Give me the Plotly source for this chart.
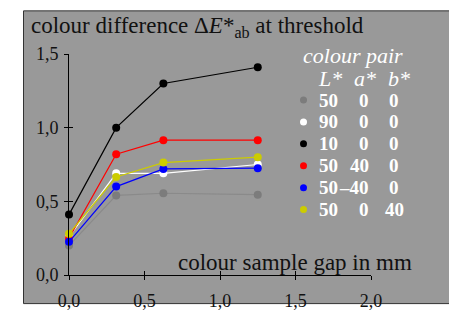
import plotly.graph_objects as go

# ---------------- data ----------------
gap_mm = [0.0, 0.3125, 0.625, 1.25]
series_names = ["50 0 0", "90 0 0", "10 0 0", "50 40 0", "50 -40 0", "50 0 40"]
dE_gray = [0.20, 0.54, 0.555, 0.545]
dE_white = [0.26, 0.69, 0.69, 0.75]
dE_black = [0.41, 1.00, 1.30, 1.41]
dE_red = [0.25, 0.82, 0.915, 0.915]
dE_blue = [0.225, 0.60, 0.72, 0.725]
dE_yellow = [0.28, 0.665, 0.763, 0.80]
L_vals = ["50", "90", "10", "50", "50", "50"]
a_vals = ["0", "0", "0", "40", "\u201340", "0"]
b_vals = ["0", "0", "0", "0", "0", "40"]
x_ticks = [0.0, 0.5, 1.0, 1.5, 2.0]
y_ticks = [0.0, 0.5, 1.0, 1.5]

marker_colors = ["#7c7c7c", "#ffffff", "#000000", "#ff0000", "#0000ff", "#cccc00"]
line_colors = ["#8a8a8a", "#ffffff", "#000000", "#ff0000", "#0000ff", "#cccc00"]
all_series = [dE_gray, dE_white, dE_black, dE_red, dE_blue, dE_yellow]

W, H = 457, 315
OFF = 8  # default page body margin
ML, MT = 69 - OFF, 54 - OFF
PW, PH = 302, 228
MR, MB = W - ML - PW, H - MT - PH


def px(x):
    return (x - OFF - ML) / PW


def py(y):
    return (MT + PH - (y - OFF)) / PH


FONT = "Liberation Serif"

fig = go.Figure()
for vals, mc, lc, nm in zip(all_series, marker_colors, line_colors, series_names):
    fig.add_trace(go.Scatter(
        x=gap_mm, y=vals, mode="lines+markers", name=nm,
        line=dict(color=lc, width=1.2),
        marker=dict(color=mc, size=8),
        cliponaxis=False, showlegend=False,
    ))

# invisible trace on overlay axes (for crossing ticks)
fig.add_trace(go.Scatter(x=[None], y=[None], xaxis="x2", yaxis="y2",
                         showlegend=False, hoverinfo="skip"))

axis_common = dict(
    showgrid=False, zeroline=False,
    tickfont=dict(family=FONT, size=18, color="#111111"),
    tickcolor="#000000", ticklen=4, tickwidth=1,
)
fig.update_layout(
    width=W, height=H,
    margin=dict(l=ML, r=MR, t=MT, b=MB, pad=0),
    paper_bgcolor="#ffffff", plot_bgcolor="rgba(0,0,0,0)",
    separators=",.",
    xaxis=dict(range=[0, 2], tickvals=x_ticks, tickformat=".1f", ticks="outside",
               showline=True, linecolor="#000000", linewidth=1,
               ticklabelstandoff=5, **axis_common),
    yaxis=dict(range=[0, 1.5], tickvals=y_ticks, tickformat=".1f", ticks="outside",
               showline=True, linecolor="#000000", linewidth=1,
               ticklabelstandoff=2, **axis_common),
    xaxis2=dict(range=[0, 2], overlaying="x", anchor="y2", tickvals=x_ticks, ticks="inside",
                showticklabels=False, showline=False, **axis_common),
    yaxis2=dict(range=[0, 1.5], overlaying="y", anchor="x2", tickvals=y_ticks, ticks="inside",
                showticklabels=False, showline=False, **axis_common),
    showlegend=False,
)

shapes = [dict(type="rect", xref="paper", yref="paper", layer="below",
               x0=px(23.5), x1=px(455), y0=py(311.5), y1=py(9.5),
               fillcolor="#999999", line=dict(color="#333333", width=1))]

annotations = [
    dict(text="colour difference \u0394<i>E</i>*<sub>ab</sub> at threshold",
         x=px(29), y=py(26), xanchor="left", yanchor="middle",
         font=dict(family=FONT, size=23, color="#111111")),
    dict(text="colour sample gap in mm", x=px(414), y=py(269), xanchor="right", yanchor="middle",
         font=dict(family=FONT, size=23, color="#111111")),
    dict(text="<i>colour pair</i>", x=px(301), y=py(56), xanchor="left", yanchor="middle",
         font=dict(family=FONT, size=22, color="#ffffff")),
    dict(text="<i>L*</i>", x=px(330), y=py(79), xanchor="center", yanchor="middle",
         font=dict(family=FONT, size=22, color="#ffffff")),
    dict(text="<i>a*</i>", x=px(365), y=py(79), xanchor="center", yanchor="middle",
         font=dict(family=FONT, size=22, color="#ffffff")),
    dict(text="<i>b*</i>", x=px(399), y=py(79), xanchor="center", yanchor="middle",
         font=dict(family=FONT, size=22, color="#ffffff")),
]

row_y0, row_dy = 101.5, 22.6
for i, (mc, Lv, av, bv) in enumerate(zip(marker_colors, L_vals, a_vals, b_vals)):
    yy = row_y0 + i * row_dy
    shapes.append(dict(type="circle", xref="paper", yref="paper",
                       xsizemode="pixel", ysizemode="pixel",
                       xanchor=px(303.5), yanchor=py(yy),
                       x0=-3.5, x1=3.5, y0=-3.5, y1=3.5,
                       fillcolor=mc, line=dict(width=0)))
    f = dict(family=FONT, size=19, color="#ffffff")
    annotations.append(dict(text="<b>%s</b>" % Lv, x=px(317), y=py(yy), xanchor="left",
                            yanchor="middle", font=f))
    annotations.append(dict(text="<b>%s</b>" % av, x=px(371), y=py(yy), xanchor="right",
                            yanchor="middle", font=f))
    annotations.append(dict(text="<b>%s</b>" % bv, x=px(394), y=py(yy), xanchor="center",
                            yanchor="middle", font=f))

for a in annotations:
    a.update(xref="paper", yref="paper", showarrow=False)

fig.update_layout(shapes=shapes, annotations=annotations)
fig.write_html("out.html")
